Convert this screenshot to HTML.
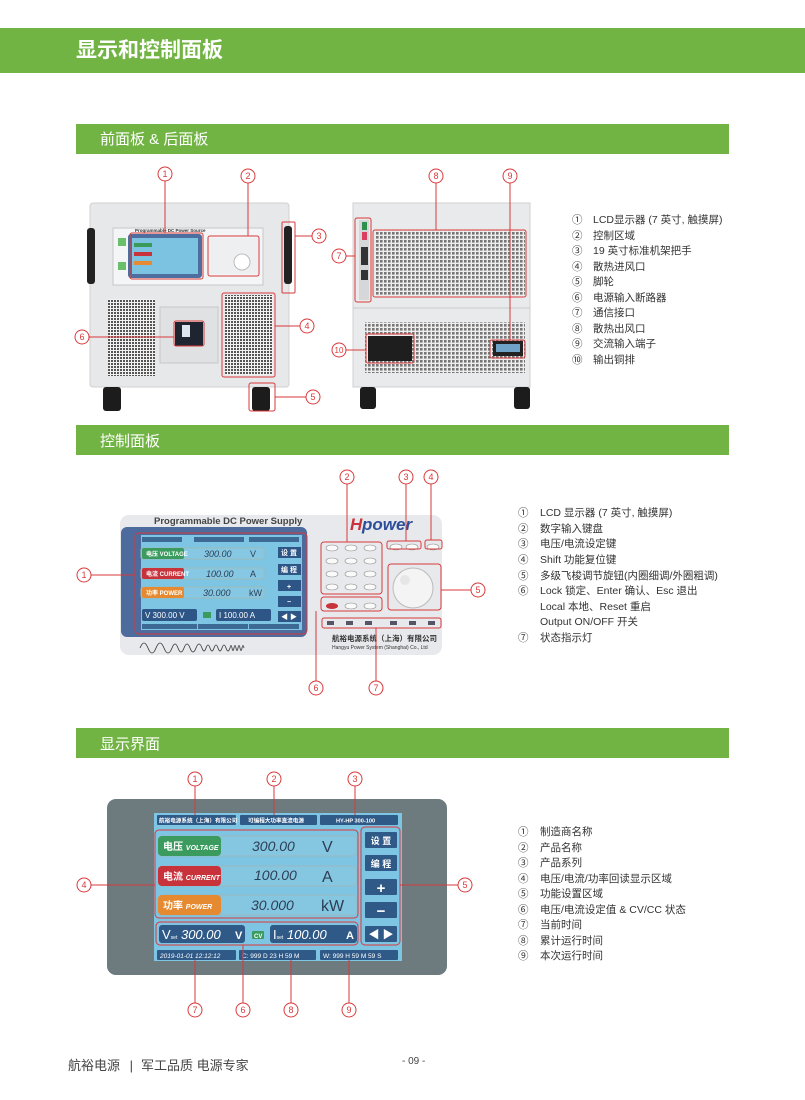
<!DOCTYPE html>
<html><head><meta charset="utf-8"><style>
html,body{margin:0;padding:0;background:#fff}
svg{display:block}
text{font-family:"Liberation Sans","Noto Sans CJK SC",sans-serif}
</style></head><body>
<svg width="805" height="1100" viewBox="0 0 805 1100" xmlns="http://www.w3.org/2000/svg">
<defs>
<pattern id="grl" width="3" height="3" patternUnits="userSpaceOnUse"><rect width="3" height="3" fill="#f2f2f2"/><rect width="2" height="2" fill="#555"/></pattern>
<pattern id="grl2" width="4" height="4" patternUnits="userSpaceOnUse"><rect width="4" height="4" fill="#eee"/><rect width="2.6" height="2.6" fill="#777"/></pattern>
</defs>
<!-- header -->
<rect x="0" y="28" width="805" height="45" fill="#71b444"/>
<text x="76" y="57" font-size="21" font-weight="bold" fill="#fff">显示和控制面板</text>
<rect x="76" y="124" width="653" height="30" fill="#71b444"/>
<text x="100" y="144" font-size="15" fill="#fff">前面板 &amp; 后面板</text>
<rect x="76" y="425" width="653" height="30" fill="#71b444"/>
<text x="100" y="446" font-size="15" fill="#fff">控制面板</text>
<rect x="76" y="728" width="653" height="30" fill="#71b444"/>
<text x="100" y="749" font-size="15" fill="#fff">显示界面</text>

<!-- FRONT UNIT -->
<rect x="90" y="203" width="199" height="184" rx="3" fill="#e7e8ea" stroke="#d0d0d0"/>
<rect x="87" y="228" width="8" height="56" rx="3" fill="#222"/>
<rect x="284" y="226" width="8" height="58" rx="3" fill="#222"/>
<rect x="113" y="228" width="150" height="57" fill="#f4f5f6" stroke="#c8c8c8"/>
<rect x="128" y="234" width="74" height="44" rx="3" fill="#4c6fa0"/>
<rect x="132" y="238" width="66" height="36" fill="#7cc3e2"/>
<rect x="134" y="243" width="18" height="4" fill="#3a9a5a"/><rect x="134" y="252" width="18" height="4" fill="#c8323a"/><rect x="134" y="261" width="18" height="4" fill="#e58a30"/>
<rect x="118" y="238" width="8" height="8" fill="#6abf6a"/><rect x="118" y="262" width="8" height="8" fill="#6abf6a"/>
<text x="135" y="232" font-size="4.5" font-weight="bold" fill="#333">Programmable DC Power Source</text>
<rect x="208" y="238" width="50" height="36" fill="#eeeff0"/>
<circle cx="242" cy="262" r="8" fill="#fff" stroke="#bbb"/>
<rect x="108" y="299" width="47" height="77" fill="url(#grl)"/>
<rect x="225" y="295" width="48" height="80" fill="url(#grl)"/>
<rect x="160" y="307" width="58" height="56" fill="#e0e1e3" stroke="#c8c8c8"/>
<rect x="175" y="322" width="28" height="24" fill="#1f2530"/>
<rect x="182" y="325" width="8" height="12" fill="#dfe5ee"/>
<rect x="103" y="387" width="18" height="24" rx="3" fill="#1c1c1c"/>
<rect x="252" y="387" width="18" height="24" rx="3" fill="#1c1c1c"/>
<!-- REAR UNIT -->
<rect x="353" y="203" width="177" height="184" fill="#e9eaec" stroke="#d0d0d0"/>
<rect x="375" y="230" width="150" height="66" fill="url(#grl2)"/>
<rect x="365" y="322" width="160" height="51" fill="url(#grl2)"/>
<line x1="353" y1="308" x2="530" y2="308" stroke="#c9c9c9"/>
<rect x="359" y="220" width="10" height="80" fill="#d6d7d9"/>
<rect x="362" y="222" width="5" height="8" fill="#2f8f4f"/><rect x="362" y="232" width="5" height="8" fill="#d94060"/>
<rect x="361" y="247" width="7" height="18" fill="#333"/><rect x="361" y="270" width="7" height="10" fill="#333"/>
<rect x="368" y="336" width="44" height="25" fill="#1e1e1e"/>
<rect x="493" y="341" width="30" height="15" fill="#222"/>
<rect x="496" y="344" width="24" height="8" fill="#6fa3c8"/>
<rect x="360" y="387" width="16" height="22" rx="3" fill="#1c1c1c"/>
<rect x="514" y="387" width="16" height="22" rx="3" fill="#1c1c1c"/>

<!-- front panel callouts -->
<g fill="none" stroke="#d9393a" stroke-width="1">
<rect x="130" y="233" width="73" height="46" rx="2"/>
<rect x="208" y="236" width="51" height="40" rx="2"/>
<rect x="282" y="222" width="13" height="71" rx="1"/>
<rect x="222" y="293" width="53" height="84" rx="2"/>
<rect x="174" y="321" width="30" height="25" rx="2"/>
<rect x="249" y="383" width="26" height="28" rx="2"/>
<rect x="355" y="218" width="16" height="84" rx="2"/>
<rect x="373" y="230" width="153" height="67" rx="2"/>
<rect x="366" y="334" width="48" height="29" rx="2"/>
<rect x="490" y="340" width="35" height="18" rx="2"/>
<line x1="165" y1="181" x2="165" y2="233"/>
<line x1="248" y1="183" x2="248" y2="236"/>
<line x1="295" y1="236" x2="312" y2="236"/>
<line x1="275" y1="326" x2="300" y2="326"/>
<line x1="275" y1="397" x2="306" y2="397"/>
<line x1="89" y1="337" x2="174" y2="337"/>
<line x1="346" y1="256" x2="355" y2="256"/>
<line x1="436" y1="183" x2="436" y2="230"/>
<line x1="510" y1="183" x2="510" y2="340"/>
<line x1="346" y1="350" x2="366" y2="350"/>
<circle cx="165" cy="174" r="7"/><circle cx="248" cy="176" r="7"/><circle cx="319" cy="236" r="7"/>
<circle cx="307" cy="326" r="7"/><circle cx="313" cy="397" r="7"/><circle cx="82" cy="337" r="7"/>
<circle cx="339" cy="256" r="7"/><circle cx="436" cy="176" r="7"/><circle cx="510" cy="176" r="7"/><circle cx="339" cy="350" r="7"/>
</g>
<g font-size="9" fill="#d9393a" text-anchor="middle">
<text x="165" y="177">1</text><text x="248" y="179">2</text><text x="319" y="239">3</text>
<text x="307" y="329">4</text><text x="313" y="400">5</text><text x="82" y="340">6</text>
<text x="339" y="259">7</text><text x="436" y="179">8</text><text x="510" y="179">9</text><text x="339" y="353" font-size="8">10</text>
</g>
<g font-size="10.5" fill="#333">
<text x="572" y="223">①</text><text x="593" y="223">LCD显示器 (7 英寸, 触摸屏)</text>
<text x="572" y="239">②</text><text x="593" y="239">控制区域</text>
<text x="572" y="254">③</text><text x="593" y="254">19 英寸标准机架把手</text>
<text x="572" y="270">④</text><text x="593" y="270">散热进风口</text>
<text x="572" y="285">⑤</text><text x="593" y="285">脚轮</text>
<text x="572" y="301">⑥</text><text x="593" y="301">电源输入断路器</text>
<text x="572" y="316">⑦</text><text x="593" y="316">通信接口</text>
<text x="572" y="332">⑧</text><text x="593" y="332">散热出风口</text>
<text x="572" y="347">⑨</text><text x="593" y="347">交流输入端子</text>
<text x="572" y="363">⑩</text><text x="593" y="363">输出铜排</text>
</g>

<!-- CONTROL PANEL -->
<rect x="120" y="515" width="322" height="140" rx="9" fill="#e8e9ec"/>
<text x="154" y="524" font-size="9.5" font-weight="bold" fill="#444">Programmable DC Power Supply</text>
<rect x="121" y="527" width="186" height="110" rx="6" fill="#4d6b9c"/>
<rect x="141" y="535" width="161" height="95" fill="#7ec4e3"/>
<rect x="142" y="537" width="40" height="5" fill="#3c6a94"/><rect x="194" y="537" width="50" height="5" fill="#3c6a94"/><rect x="249" y="537" width="50" height="5" fill="#3c6a94"/>
<rect x="141" y="548" width="123" height="11" rx="2" fill="#86c8e3" stroke="#9bb"/>
<rect x="142" y="548" width="42" height="11" rx="2" fill="#3b9a5e"/>
<rect x="141" y="568" width="123" height="11" rx="2" fill="#86c8e3" stroke="#9bb"/>
<rect x="142" y="568" width="42" height="11" rx="2" fill="#c8323a"/>
<rect x="141" y="587" width="123" height="11" rx="2" fill="#86c8e3" stroke="#9bb"/>
<rect x="142" y="587" width="42" height="11" rx="2" fill="#e58a30"/>
<g font-size="6" fill="#fff" font-weight="bold"><text x="146" y="556">电压 VOLTAGE</text><text x="146" y="576">电流 CURRENT</text><text x="146" y="595">功率 POWER</text></g>
<g font-size="9" fill="#2c3e55"><text x="204" y="557" font-style="italic">300.00</text><text x="250" y="557">V</text>
<text x="206" y="577" font-style="italic">100.00</text><text x="250" y="577">A</text>
<text x="203" y="596" font-style="italic">30.000</text><text x="249" y="596">kW</text></g>
<rect x="278" y="547" width="23" height="11" fill="#2d5586"/><rect x="278" y="564" width="23" height="11" fill="#2d5586"/>
<rect x="278" y="580" width="23" height="11" fill="#2d5586"/><rect x="278" y="596" width="23" height="11" fill="#2d5586"/><rect x="278" y="611" width="23" height="11" fill="#2d5586"/>
<g font-size="7" fill="#fff" text-anchor="middle" font-weight="bold"><text x="289" y="555">设 置</text><text x="289" y="572">编 程</text><text x="289" y="589">+</text><text x="289" y="604">−</text><text x="289" y="619">◀ ▶</text></g>
<rect x="142" y="609" width="55" height="12" rx="2" fill="#2d5586"/><rect x="216" y="609" width="55" height="12" rx="2" fill="#2d5586"/>
<rect x="203" y="612" width="8" height="6" fill="#3b9a5e"/>
<g font-size="8" fill="#fff"><text x="145" y="618">V 300.00  V</text><text x="219" y="618">I 100.00  A</text></g>
<rect x="142" y="624" width="55" height="5" fill="#3c6a94"/><rect x="198" y="624" width="50" height="5" fill="#3c6a94"/><rect x="249" y="624" width="50" height="5" fill="#3c6a94"/>
<path d="M140 648 q4 -10 8 0 q4 10 8 0 q4 -10 8 0 q4 10 8 0 q3 -8 6 0 q3 8 6 0 q3 -8 6 0 q3 8 6 0 q3 -8 6 0 q2 6 4 0 q2 -6 4 0 q2 6 4 0 q2 -6 4 0 q2 6 4 0 q2 -6 4 0 q2 6 4 0 q1 -5 2 0 q1 5 2 0 q1 -5 2 0 q1 5 2 0 q1 -5 2 0 q1 5 2 0 q1 -5 2 0" fill="none" stroke="#333" stroke-width="0.8"/>
<text x="362" y="530" font-size="17" font-weight="bold" font-style="italic" fill="#2d4f9a">power</text>
<text x="350" y="530" font-size="17" font-weight="bold" font-style="italic" fill="#c8323a">H</text>
<g fill="#fafafa" stroke="#888" stroke-width="0.6">
<ellipse cx="332" cy="548" rx="6" ry="3"/><ellipse cx="351" cy="548" rx="6" ry="3"/><ellipse cx="370" cy="548" rx="6" ry="3"/>
<ellipse cx="332" cy="561" rx="6" ry="3"/><ellipse cx="351" cy="561" rx="6" ry="3"/><ellipse cx="370" cy="561" rx="6" ry="3"/>
<ellipse cx="332" cy="574" rx="6" ry="3"/><ellipse cx="351" cy="574" rx="6" ry="3"/><ellipse cx="370" cy="574" rx="6" ry="3"/>
<ellipse cx="332" cy="587" rx="6" ry="3"/><ellipse cx="351" cy="587" rx="6" ry="3"/><ellipse cx="370" cy="587" rx="6" ry="3"/>
<ellipse cx="351" cy="606" rx="6" ry="3"/><ellipse cx="370" cy="606" rx="6" ry="3"/>
<ellipse cx="396" cy="547" rx="6" ry="3"/><ellipse cx="412" cy="547" rx="6" ry="3"/><ellipse cx="433" cy="547" rx="6" ry="3"/>
</g>
<ellipse cx="332" cy="606" rx="6" ry="3" fill="#c8323a"/>
<circle cx="413" cy="588" r="20" fill="#f4f4f4" stroke="#bbb"/>
<circle cx="405" cy="580" r="5" fill="#e6e6e6"/>
<g fill="#556"><rect x="327" y="621" width="7" height="4"/><rect x="346" y="621" width="7" height="4"/><rect x="365" y="621" width="7" height="4"/><rect x="390" y="621" width="7" height="4"/><rect x="409" y="621" width="7" height="4"/><rect x="428" y="621" width="7" height="4"/></g>
<text x="332" y="641" font-size="7.5" font-weight="bold" fill="#333">航裕电源系统（上海）有限公司</text>
<text x="332" y="649" font-size="5" fill="#333">Hangyu Power System (Shanghai) Co., Ltd</text>
<g fill="none" stroke="#d9393a" stroke-width="1">
<rect x="135" y="533" width="172" height="101" rx="4"/>
<rect x="321" y="542" width="61" height="52" rx="3"/>
<rect x="321" y="597" width="61" height="14" rx="3"/>
<rect x="387" y="541" width="34" height="8" rx="2"/>
<rect x="425" y="540" width="17" height="9" rx="2"/>
<rect x="388" y="564" width="53" height="46" rx="3"/>
<rect x="322" y="618" width="119" height="10" rx="2"/>
<line x1="91" y1="575" x2="135" y2="575"/>
<line x1="347" y1="484" x2="347" y2="542"/>
<line x1="406" y1="484" x2="406" y2="541"/>
<line x1="431" y1="484" x2="431" y2="540"/>
<line x1="441" y1="590" x2="471" y2="590"/>
<line x1="316" y1="681" x2="316" y2="611"/>
<line x1="376" y1="681" x2="376" y2="628"/>
<circle cx="84" cy="575" r="7"/><circle cx="347" cy="477" r="7"/><circle cx="406" cy="477" r="7"/><circle cx="431" cy="477" r="7"/>
<circle cx="478" cy="590" r="7"/><circle cx="316" cy="688" r="7"/><circle cx="376" cy="688" r="7"/>
</g>
<g font-size="9" fill="#d9393a" text-anchor="middle">
<text x="84" y="578">1</text><text x="347" y="480">2</text><text x="406" y="480">3</text><text x="431" y="480">4</text>
<text x="478" y="593">5</text><text x="316" y="691">6</text><text x="376" y="691">7</text>
</g>
<g font-size="10.5" fill="#333">
<text x="518" y="516">①</text><text x="540" y="516">LCD 显示器 (7 英寸, 触摸屏)</text>
<text x="518" y="532">②</text><text x="540" y="532">数字输入键盘</text>
<text x="518" y="547">③</text><text x="540" y="547">电压/电流设定键</text>
<text x="518" y="563">④</text><text x="540" y="563">Shift 功能复位键</text>
<text x="518" y="579">⑤</text><text x="540" y="579">多级飞梭调节旋钮(内圈细调/外圈粗调)</text>
<text x="518" y="594">⑥</text><text x="540" y="594">Lock 锁定、Enter 确认、Esc 退出</text>
<text x="540" y="610">Local 本地、Reset 重启</text>
<text x="540" y="625">Output ON/OFF 开关</text>
<text x="518" y="641">⑦</text><text x="540" y="641">状态指示灯</text>
</g>

<!-- DISPLAY -->
<rect x="107" y="799" width="340" height="176" rx="9" fill="#6d7b7f"/>
<rect x="154" y="813" width="248" height="148" fill="#7ec4e3"/>
<g fill="#2f5a88"><rect x="157" y="815" width="79" height="10" rx="1"/><rect x="240" y="815" width="77" height="10" rx="1"/><rect x="320" y="815" width="78" height="10" rx="1"/></g>
<g font-size="5.6" fill="#fff" font-weight="bold"><text x="159" y="822.5">航裕电源系统（上海）有限公司</text><text x="248" y="822.5">可编程大功率直流电源</text><text x="336" y="822.5">HY-HP 300-100</text></g>
<g fill="#85c6e0" stroke="#9bb8c2"><rect x="158" y="836" width="199" height="20" rx="4"/><rect x="158" y="866" width="199" height="20" rx="4"/><rect x="158" y="895" width="199" height="20" rx="4"/></g>
<rect x="158" y="836" width="63" height="20" rx="4" fill="#3b9a5e"/>
<rect x="158" y="866" width="63" height="20" rx="4" fill="#c8323a"/>
<rect x="158" y="895" width="63" height="20" rx="4" fill="#e58a30"/>
<g fill="#fff" font-weight="bold"><text x="163" y="850" font-size="10">电压 <tspan font-size="7" font-style="italic">VOLTAGE</tspan></text>
<text x="163" y="880" font-size="10">电流 <tspan font-size="7" font-style="italic">CURRENT</tspan></text>
<text x="163" y="909" font-size="10">功率 <tspan font-size="7" font-style="italic">POWER</tspan></text></g>
<g fill="#2c3e55" font-size="14"><text x="252" y="851" font-style="italic">300.00</text><text x="322" y="852" font-size="16">V</text>
<text x="254" y="880" font-style="italic">100.00</text><text x="322" y="882" font-size="16">A</text>
<text x="251" y="910" font-style="italic">30.000</text><text x="321" y="911" font-size="16">kW</text></g>
<g fill="#2f5a88"><rect x="365" y="832" width="32" height="16" rx="1"/><rect x="365" y="855" width="32" height="16" rx="1"/><rect x="365" y="879" width="32" height="16" rx="1"/><rect x="365" y="902" width="32" height="16" rx="1"/><rect x="365" y="926" width="32" height="16" rx="1"/></g>
<g fill="#fff" font-weight="bold" text-anchor="middle"><text x="381" y="844" font-size="9">设 置</text><text x="381" y="867" font-size="9">编 程</text><text x="381" y="893" font-size="15">+</text><text x="381" y="916" font-size="15">−</text><text x="381" y="938" font-size="11">◀ ▶</text></g>
<rect x="159" y="925" width="86" height="18" rx="3" fill="#2f5a88"/><rect x="270" y="925" width="87" height="18" rx="3" fill="#2f5a88"/>
<rect x="252" y="931" width="12" height="8" rx="1" fill="#3b9a5e"/><text x="254" y="938" font-size="6" fill="#fff" font-weight="bold">CV</text>
<g fill="#fff"><text x="162" y="939" font-size="13">V<tspan font-size="5">set</tspan> <tspan font-style="italic">300.00</tspan></text><text x="235" y="939" font-size="11" font-weight="bold">V</text>
<text x="273" y="939" font-size="13">I<tspan font-size="5">set</tspan> <tspan font-style="italic">100.00</tspan></text><text x="346" y="939" font-size="11" font-weight="bold">A</text></g>
<g fill="#2f5a88"><rect x="157" y="950" width="79" height="10" rx="1"/><rect x="239" y="950" width="77" height="10" rx="1"/><rect x="320" y="950" width="78" height="10" rx="1"/></g>
<g font-size="6.5" fill="#fff"><text x="160" y="958" font-style="italic">2019-01-01  12:12:12</text><text x="242" y="958">C:       999 D 23 H 59 M</text><text x="323" y="958">W:        999 H 59 M 59 S</text></g>
<g fill="none" stroke="#d9393a" stroke-width="1">
<rect x="155" y="830" width="203" height="88" rx="4"/>
<rect x="361" y="827" width="39" height="118" rx="4"/>
<rect x="156" y="922" width="202" height="23" rx="4"/>
<line x1="195" y1="786" x2="195" y2="815"/><line x1="274" y1="786" x2="274" y2="815"/><line x1="355" y1="786" x2="355" y2="815"/>
<line x1="91" y1="885" x2="155" y2="885"/><line x1="400" y1="885" x2="458" y2="885"/>
<line x1="195" y1="960" x2="195" y2="1003"/><line x1="243" y1="945" x2="243" y2="1003"/><line x1="291" y1="960" x2="291" y2="1003"/><line x1="349" y1="960" x2="349" y2="1003"/>
<circle cx="195" cy="779" r="7"/><circle cx="274" cy="779" r="7"/><circle cx="355" cy="779" r="7"/>
<circle cx="84" cy="885" r="7"/><circle cx="465" cy="885" r="7"/>
<circle cx="195" cy="1010" r="7"/><circle cx="243" cy="1010" r="7"/><circle cx="291" cy="1010" r="7"/><circle cx="349" cy="1010" r="7"/>
</g>
<g font-size="9" fill="#d9393a" text-anchor="middle">
<text x="195" y="782">1</text><text x="274" y="782">2</text><text x="355" y="782">3</text><text x="84" y="888">4</text><text x="465" y="888">5</text>
<text x="195" y="1013">7</text><text x="243" y="1013">6</text><text x="291" y="1013">8</text><text x="349" y="1013">9</text>
</g>
<g font-size="10.5" fill="#333">
<text x="518" y="835">①</text><text x="540" y="835">制造商名称</text>
<text x="518" y="851">②</text><text x="540" y="851">产品名称</text>
<text x="518" y="866">③</text><text x="540" y="866">产品系列</text>
<text x="518" y="882">④</text><text x="540" y="882">电压/电流/功率回读显示区域</text>
<text x="518" y="897">⑤</text><text x="540" y="897">功能设置区域</text>
<text x="518" y="913">⑥</text><text x="540" y="913">电压/电流设定值 &amp; CV/CC 状态</text>
<text x="518" y="928">⑦</text><text x="540" y="928">当前时间</text>
<text x="518" y="944">⑧</text><text x="540" y="944">累计运行时间</text>
<text x="518" y="959">⑨</text><text x="540" y="959">本次运行时间</text>
</g>
<!-- footer -->
<text x="68" y="1070" font-size="13" fill="#444">航裕电源 <tspan dx="6">|</tspan><tspan dx="8">军工品质 电源专家</tspan></text>
<text x="402" y="1064" font-size="10" fill="#444">- 09 -</text>
</svg>
</body></html>
